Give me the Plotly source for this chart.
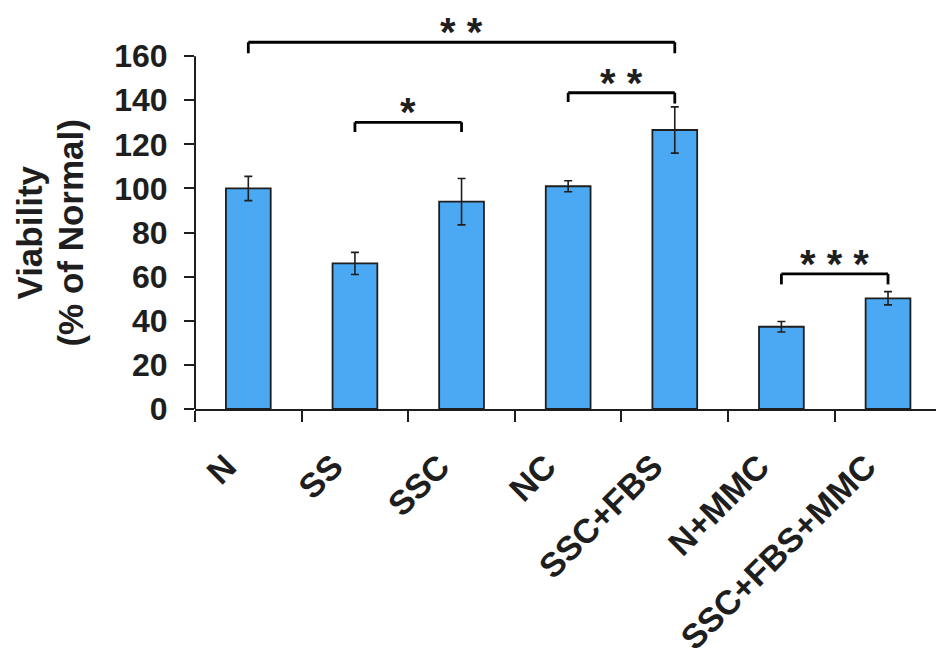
import plotly.graph_objects as go

categories = ["N", "SS", "SSC", "NC", "SSC+FBS", "N+MMC", "SSC+FBS+MMC"]
viability = [100, 66, 94, 101, 126.5, 37.3, 50.2]
errors = [5.5, 5, 10.5, 2.5, 10.5, 2.4, 3]
y_ticks = [0, 20, 40, 60, 80, 100, 120, 140, 160]

# significance brackets: (left index, right index, bracket height, leg bottom left, leg bottom right, label)
brackets = [
    (0, 4, 166.3, 161.3, 161.3, "* *"),
    (1, 2, 130.0, 125.6, 125.6, "*"),
    (3, 4, 143.4, 139.2, 138.5, "* *"),
    (5, 6, 61.3, 56.5, 56.5, "* * *"),
]

font_family = "Liberation Sans, Arial, sans-serif"
bar_color = "#4aa9f2"
ink = "#1e1e1e"

fig = go.Figure()
fig.add_trace(go.Bar(
    x=categories, y=viability,
    width=0.42,
    marker=dict(color=bar_color, line=dict(color=ink, width=1.8)),
    error_y=dict(type="data", array=errors, visible=True, color=ink, thickness=1.6, width=4),
))

shapes = []
annotations = []
for li, ri, h, bl, br, lab in brackets:
    shapes.append(dict(type="line", xref="x", yref="y", x0=li, x1=ri, y0=h, y1=h,
                       line=dict(color="black", width=2.8)))
    shapes.append(dict(type="line", xref="x", yref="y", x0=li, x1=li, y0=bl, y1=h,
                       line=dict(color="black", width=2.8)))
    shapes.append(dict(type="line", xref="x", yref="y", x0=ri, x1=ri, y0=br, y1=h,
                       line=dict(color="black", width=2.8)))
    annotations.append(dict(xref="x", yref="y", x=(li + ri) / 2, y=h, text="<b>" + lab + "</b>",
                            showarrow=False, yanchor="middle", yshift=10,
                            font=dict(family=font_family, size=40, color=ink)))

# y axis line only from 0 to 160
shapes.append(dict(type="line", xref="paper", yref="y", x0=0, x1=0, y0=0, y1=160,
                   line=dict(color=ink, width=2)))

annotations.append(dict(xref="paper", yref="y", x=(30 - 195) / 741, y=80, text="<b>Viability</b>",
                        showarrow=False, textangle=-90, xanchor="center", yanchor="middle",
                        font=dict(family=font_family, size=35, color=ink)))
annotations.append(dict(xref="paper", yref="y", x=(71 - 195) / 741, y=80, text="<b>(% of Normal)</b>",
                        showarrow=False, textangle=-90, xanchor="center", yanchor="middle",
                        font=dict(family=font_family, size=35, color=ink)))

fig.update_layout(
    width=936, height=657,
    margin=dict(l=195, r=0, t=1, b=246),
    plot_bgcolor="white", paper_bgcolor="white",
    showlegend=False,
    shapes=shapes, annotations=annotations,
    font=dict(family=font_family, color=ink),
)
fig.update_xaxes(
    range=[-0.5, 6.45], showline=True, linecolor=ink, linewidth=2,
    ticks="outside", tickson="boundaries", ticklen=11, tickcolor=ink, tickwidth=1.5,
    tickangle=-45, tickfont=dict(family=font_family, size=34, color=ink, weight="bold"),
    ticklabelstandoff=22, ticklabelshift=-22,
    showgrid=False, zeroline=False,
)
fig.update_yaxes(
    range=[0, 185], tickvals=y_ticks, showline=False,
    ticks="outside", ticklen=10, tickcolor=ink, tickwidth=1.5,
    tickfont=dict(family=font_family, size=32, color=ink, weight="bold"),
    ticklabelstandoff=10,
    showgrid=False, zeroline=False,
)

fig.write_html("out.html")
